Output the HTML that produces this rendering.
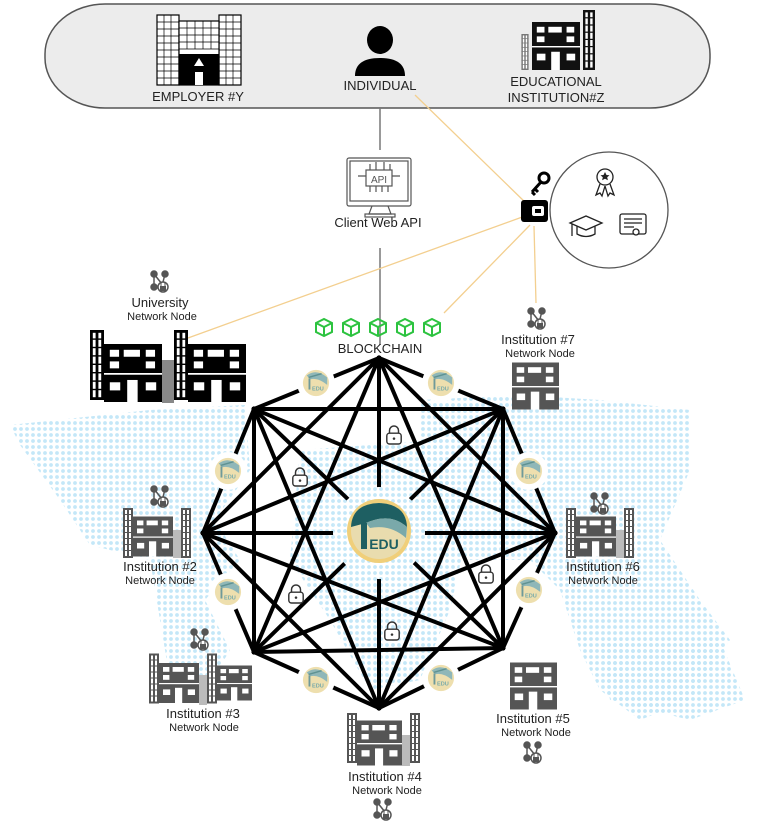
<!DOCTYPE html>
<html><head><meta charset="utf-8"><style>
html,body{margin:0;padding:0;background:#fff;}
svg{display:block;font-family:"Liberation Sans",sans-serif;}
</style></head><body>
<svg width="768" height="823" viewBox="0 0 768 823" xmlns="http://www.w3.org/2000/svg">
<defs>
<pattern id="dots" width="6" height="6" patternUnits="userSpaceOnUse"><circle cx="3" cy="3" r="1.9" fill="#c4e7f8"/></pattern>
<symbol id="bld" viewBox="0 0 50 50">
<rect x="0" y="0" width="50" height="50" fill="inherit"/>
<g fill="#fff">
<rect x="5" y="5" width="8" height="6"/><rect x="17" y="5" width="14" height="6"/><rect x="36" y="5" width="8" height="6"/>
<rect x="5" y="15" width="8" height="6"/><rect x="36" y="15" width="8" height="6"/>
<rect x="0" y="25" width="50" height="1.5"/>
<rect x="5" y="33" width="9" height="7"/><rect x="36" y="33" width="9" height="7"/><rect x="20" y="31" width="9" height="19"/>
</g></symbol>
<symbol id="tower" viewBox="0 0 10 50">
<rect width="10" height="50" fill="inherit"/>
<g fill="#fff"><rect x="2" y="2" width="2" height="46"/><rect x="6" y="2" width="2" height="46"/></g>
<g fill="inherit"><rect x="0" y="6" width="10" height="1"/><rect x="0" y="12" width="10" height="1"/><rect x="0" y="18" width="10" height="1"/><rect x="0" y="24" width="10" height="1"/><rect x="0" y="30" width="10" height="1"/><rect x="0" y="36" width="10" height="1"/><rect x="0" y="42" width="10" height="1"/></g>
</symbol>
<symbol id="net" viewBox="0 0 20 24">
<g fill="#555" stroke="#555" stroke-width="1.5">
<line x1="4" y1="4" x2="4" y2="16"/><line x1="4" y1="4" x2="12" y2="14"/><line x1="15" y1="4" x2="13" y2="12"/>
<circle cx="4" cy="4" r="3"/><circle cx="15" cy="4" r="3"/><circle cx="4" cy="17" r="3"/>
<circle cx="13" cy="17" r="5" fill="#fff"/></g>
<rect x="10" y="16" width="6" height="5" fill="#555"/><path d="M11 16v-2a2 2 0 0 1 4 0v2" fill="none" stroke="#555" stroke-width="1"/>
</symbol>
<symbol id="edu" viewBox="-15 -15 30 30">
<circle r="14" fill="#eedfae"/>
<path d="M-10 -8 Q0 -16 12 -6 L12 2 Q2 -6 -6 -4 Z" fill="#8fb7b8"/>
<path d="M-8 -6 L6 -10" stroke="#5f9292" stroke-width="1.5"/>
<rect x="-8" y="-5" width="2" height="12" fill="#6f9a99"/>
<text x="2" y="8" font-size="6" fill="#7aa" text-anchor="middle" font-weight="bold">EDU</text>
</symbol>
<symbol id="lock" viewBox="0 0 20 22">
<path d="M5 9V6a5 5 0 0 1 10 0v3" fill="none" stroke="#333" stroke-width="1.6"/>
<rect x="2" y="9" width="16" height="12" rx="3" fill="#fff" stroke="#333" stroke-width="1.6"/>
<circle cx="10" cy="15" r="1.4" fill="#333"/>
</symbol>
</defs>

<!-- world map dots -->
<g fill="url(#dots)">
<path d="M10 425 L150 410 L245 405 L250 470 L215 520 L240 560 L205 600 L230 650 L200 700 L170 680 L150 560 L90 545 L60 500 L20 445 Z"/>
<path d="M420 400 L520 395 L600 400 L690 410 L690 470 L660 540 L700 600 L730 640 L690 700 L640 720 L600 690 L580 650 L560 590 L530 560 L470 560 L420 520 Z"/>
<path d="M300 450 L440 440 L470 520 L450 610 L420 680 L370 690 L330 620 L290 560 Z"/>
<path d="M600 640 L720 640 L745 700 L690 720 L610 700 Z"/>
</g>

<!-- top container -->
<rect x="45" y="4" width="665" height="104" rx="60" ry="50" fill="#ececec" stroke="#555" stroke-width="1.5"/>
<!-- employer building -->
<g stroke="#000" stroke-width="1.2" fill="#fff">
<rect x="157" y="15" width="22" height="70"/><rect x="219" y="15" width="22" height="70"/>
<rect x="179" y="21" width="40" height="64"/></g>
<g stroke="#000" stroke-width="0.7">
<path d="M157 22h22M157 29h22M157 36h22M157 43h22M157 50h22M157 57h22M157 64h22M157 71h22M157 78h22M164 15v70M171 15v70"/>
<path d="M219 22h22M219 29h22M219 36h22M219 43h22M219 50h22M219 57h22M219 64h22M219 71h22M219 78h22M226 15v70M233 15v70"/>
<path d="M179 28h40M179 35h40M179 42h40M179 49h40M187 21v28M195 21v28M203 21v28M211 21v28"/>
</g>
<rect x="179" y="54" width="40" height="31" fill="#000"/>
<path d="M199 58 l-5 8 h10 z" fill="#fff"/>
<rect x="195" y="72" width="8" height="13" fill="#fff"/>
<!-- individual -->
<ellipse cx="380" cy="40" rx="13" ry="14" fill="#000"/>
<path d="M355 76 Q355 58 380 58 Q405 58 405 76 Z" fill="#000"/>
<!-- edu inst Z -->
<use href="#tower" x="583" y="10" width="12" height="60" fill="#111"/>
<use href="#tower" x="521" y="34" width="8" height="36" fill="#777"/>
<use href="#bld" x="529" y="22" width="54" height="48" fill="#111"/>
<g font-size="13" fill="#222" text-anchor="middle">
<text x="198" y="101">EMPLOYER #Y</text>
<text x="380" y="90">INDIVIDUAL</text>
<text x="556" y="86">EDUCATIONAL</text>
<text x="556" y="102">INSTITUTION#Z</text>
</g>

<!-- connectors -->
<line x1="380" y1="108" x2="380" y2="150" stroke="#777" stroke-width="1.5"/>
<line x1="380" y1="248" x2="380" y2="345" stroke="#777" stroke-width="1.5"/>
<g stroke="#f3cf8f" stroke-width="1.3">
<line x1="415" y1="95" x2="528" y2="205"/>
<line x1="525" y1="216" x2="188" y2="338"/>
<line x1="530" y1="225" x2="444" y2="313"/>
<line x1="534" y1="226" x2="536" y2="303"/>
</g>

<!-- API monitor -->
<g fill="none" stroke="#555" stroke-width="1.2">
<rect x="347" y="158" width="64" height="48" rx="2"/>
<rect x="350" y="161" width="58" height="40"/>
<path d="M372 206 l-3 8 h22 l-3 -8"/><rect x="365" y="214" width="30" height="3"/>
<rect x="366" y="170" width="26" height="16"/>
<path d="M370 170v-6M376 170v-8M384 170v-8M390 170v-6M366 176h-8M392 176h8M370 186v6M376 186v6M382 186v6M388 186v6"/>
</g>
<text x="379" y="183" font-size="10" fill="#555" text-anchor="middle">API</text>
<text x="378" y="227" font-size="13" fill="#222" text-anchor="middle">Client Web API</text>

<!-- wallet and key -->
<circle cx="544" cy="178" r="5" fill="none" stroke="#000" stroke-width="3"/>
<path d="M541 182 l-9 10 M535 189 l3 3 M532 192 l3 3" stroke="#000" stroke-width="3"/>
<rect x="521" y="200" width="27" height="22" rx="3" fill="#000"/>
<rect x="532" y="206" width="12" height="10" rx="2" fill="#fff"/><rect x="535" y="209" width="6" height="4" fill="#000"/>
<ellipse cx="609" cy="210" rx="59" ry="58" fill="#fff" stroke="#555" stroke-width="1.3"/>
<g fill="none" stroke="#222" stroke-width="1.3">
<circle cx="605" cy="177" r="8"/><path d="M600 184 l-4 11 l4 -2 l2 3 l3 -10 M610 184 l4 11 l-4 -2 l-2 3 l-3 -10"/>
<path d="M570 223 l16 -7 l16 7 l-16 7 z M577 226 v8 q9 5 18 0 v-8 M572 224 v12"/>
<rect x="620" y="214" width="26" height="20" rx="2"/><path d="M624 219h18M624 223h18M624 227h10"/><circle cx="636" cy="232" r="3" fill="#fff"/>
</g>
<path d="M605 172 l1.5 3 3 .3 -2.3 2 .7 3 -2.9 -1.6 -2.9 1.6 .7 -3 -2.3 -2 3 -.3z" fill="#222"/>

<!-- blockchain cubes -->
<g fill="none" stroke="#2cc33f" stroke-width="2">
<path d="M316 323 l8 -4 8 4 v9 l-8 4 -8 -4 z M316 323 l8 4 8 -4 M324 327 v9"/>
<path d="M343 323 l8 -4 8 4 v9 l-8 4 -8 -4 z M343 323 l8 4 8 -4 M351 327 v9"/>
<path d="M370 323 l8 -4 8 4 v9 l-8 4 -8 -4 z M370 323 l8 4 8 -4 M378 327 v9"/>
<path d="M397 323 l8 -4 8 4 v9 l-8 4 -8 -4 z M397 323 l8 4 8 -4 M405 327 v9"/>
<path d="M424 323 l8 -4 8 4 v9 l-8 4 -8 -4 z M424 323 l8 4 8 -4 M432 327 v9"/>
</g>
<text x="380" y="353" font-size="13" fill="#222" text-anchor="middle">BLOCKCHAIN</text>

<!-- mesh -->
<g stroke="#000" stroke-width="4" stroke-linecap="square">
<path d="M379 358L503 409L555 533L503 648L379 708L254 652L203 533L254 409Z" fill="none"/>
<path d="M379 358L555 533M379 358L503 648M379 358L379 708M379 358L254 652M379 358L203 533"/>
<path d="M503 409L503 648M503 409L379 708M503 409L254 652M503 409L203 533M503 409L254 409"/>
<path d="M555 533L379 708M555 533L254 652M555 533L203 533M555 533L254 409"/>
<path d="M503 648L254 652M503 648L203 533M503 648L254 409"/>
<path d="M379 708L203 533M379 708L254 409"/>
<path d="M254 652L254 409"/>
</g>
<!-- center gap -->
<circle cx="379" cy="533" r="46" fill="#fff"/>
<circle cx="379" cy="533" r="46" fill="url(#dots)"/>
<circle cx="379" cy="531" r="32" fill="#f0cf7a"/>
<circle cx="379" cy="531" r="28" fill="#e9dcae"/>
<path d="M351 527 Q352 504 379 503 Q406 504 407 527 Q390 512 366 523 Z" fill="#1e5f62"/>
<path d="M366 523 Q390 512 407 527 L406 538 Q390 524 370 528Z" fill="#7aa9aa"/>
<rect x="361" y="523" width="6" height="26" fill="#1e5f62"/>
<text x="384" y="549" font-size="14" font-weight="bold" fill="#1e5f62" text-anchor="middle">EDU</text>

<!-- edge edu icons -->
<g fill="#fff">
<circle cx="441" cy="383" r="19"/><circle cx="529" cy="471" r="19"/><circle cx="529" cy="590" r="19"/><circle cx="441" cy="678" r="19"/>
<circle cx="316" cy="680" r="19"/><circle cx="228" cy="592" r="19"/><circle cx="228" cy="471" r="19"/><circle cx="316" cy="383" r="19"/>
</g>
<use href="#edu" x="427" y="369" width="28" height="28"/><use href="#edu" x="515" y="457" width="28" height="28"/>
<use href="#edu" x="515" y="576" width="28" height="28"/><use href="#edu" x="427" y="664" width="28" height="28"/>
<use href="#edu" x="302" y="666" width="28" height="28"/><use href="#edu" x="214" y="578" width="28" height="28"/>
<use href="#edu" x="214" y="457" width="28" height="28"/><use href="#edu" x="302" y="369" width="28" height="28"/>
<!-- locks -->
<use href="#lock" x="385" y="425" width="18" height="20"/>
<use href="#lock" x="291" y="467" width="18" height="20"/>
<use href="#lock" x="477" y="564" width="18" height="20"/>
<use href="#lock" x="287" y="584" width="18" height="20"/>
<use href="#lock" x="383" y="621" width="18" height="20"/>

<!-- University -->
<use href="#tower" x="90" y="327" width="14" height="76" fill="#000"/>
<use href="#bld" x="104" y="343" width="58" height="60" fill="#000"/>
<rect x="162" y="360" width="12" height="43" fill="#888"/>
<use href="#tower" x="174" y="327" width="14" height="76" fill="#000"/>
<use href="#bld" x="188" y="343" width="58" height="60" fill="#000"/>
<!-- Inst 7 -->
<use href="#bld" x="512" y="362" width="47" height="48" fill="#555"/>
<!-- Inst 2 -->
<use href="#tower" x="123" y="508" width="10" height="50" fill="#555"/>
<use href="#bld" x="133" y="515" width="40" height="43" fill="#555"/>
<rect x="173" y="530" width="8" height="28" fill="#bbb"/>
<use href="#tower" x="181" y="508" width="10" height="50" fill="#555"/>
<!-- Inst 6 -->
<use href="#tower" x="566" y="508" width="10" height="50" fill="#555"/>
<use href="#bld" x="576" y="515" width="40" height="43" fill="#555"/>
<rect x="616" y="530" width="8" height="28" fill="#bbb"/>
<use href="#tower" x="624" y="508" width="10" height="50" fill="#555"/>
<!-- Inst 3 -->
<use href="#tower" x="149" y="652" width="10" height="53" fill="#555"/>
<use href="#bld" x="159" y="661" width="40" height="44" fill="#555"/>
<rect x="199" y="675" width="8" height="30" fill="#bbb"/>
<use href="#tower" x="207" y="652" width="10" height="53" fill="#555"/>
<use href="#bld" x="217" y="661" width="35" height="44" fill="#555"/>
<!-- Inst 5 -->
<use href="#bld" x="510" y="662" width="47" height="48" fill="#555"/>
<!-- Inst 4 -->
<use href="#tower" x="347" y="710" width="10" height="56" fill="#555"/>
<use href="#bld" x="357" y="720" width="45" height="46" fill="#555"/>
<rect x="402" y="735" width="8" height="31" fill="#bbb"/>
<use href="#tower" x="410" y="710" width="10" height="56" fill="#555"/>

<!-- net icons -->
<use href="#net" x="150" y="270" width="20" height="24"/>
<use href="#net" x="527" y="307" width="20" height="24"/>
<use href="#net" x="150" y="485" width="20" height="24"/>
<use href="#net" x="590" y="492" width="20" height="24"/>
<use href="#net" x="190" y="628" width="20" height="24"/>
<use href="#net" x="523" y="741" width="20" height="24"/>
<use href="#net" x="373" y="798" width="20" height="24"/>

<g fill="#222" text-anchor="middle">
<text x="160" y="307" font-size="13">University</text><text x="162" y="320" font-size="11">Network Node</text>
<text x="538" y="344" font-size="13">Institution #7</text><text x="540" y="357" font-size="11">Network Node</text>
<text x="160" y="571" font-size="13">Institution #2</text><text x="160" y="584" font-size="11">Network Node</text>
<text x="603" y="571" font-size="13">Institution #6</text><text x="603" y="584" font-size="11">Network Node</text>
<text x="203" y="718" font-size="13">Institution #3</text><text x="204" y="731" font-size="11">Network Node</text>
<text x="533" y="723" font-size="13">Institution #5</text><text x="536" y="736" font-size="11">Network Node</text>
<text x="385" y="781" font-size="13">Institution #4</text><text x="387" y="794" font-size="11">Network Node</text>
</g>
</svg>
</body></html>
